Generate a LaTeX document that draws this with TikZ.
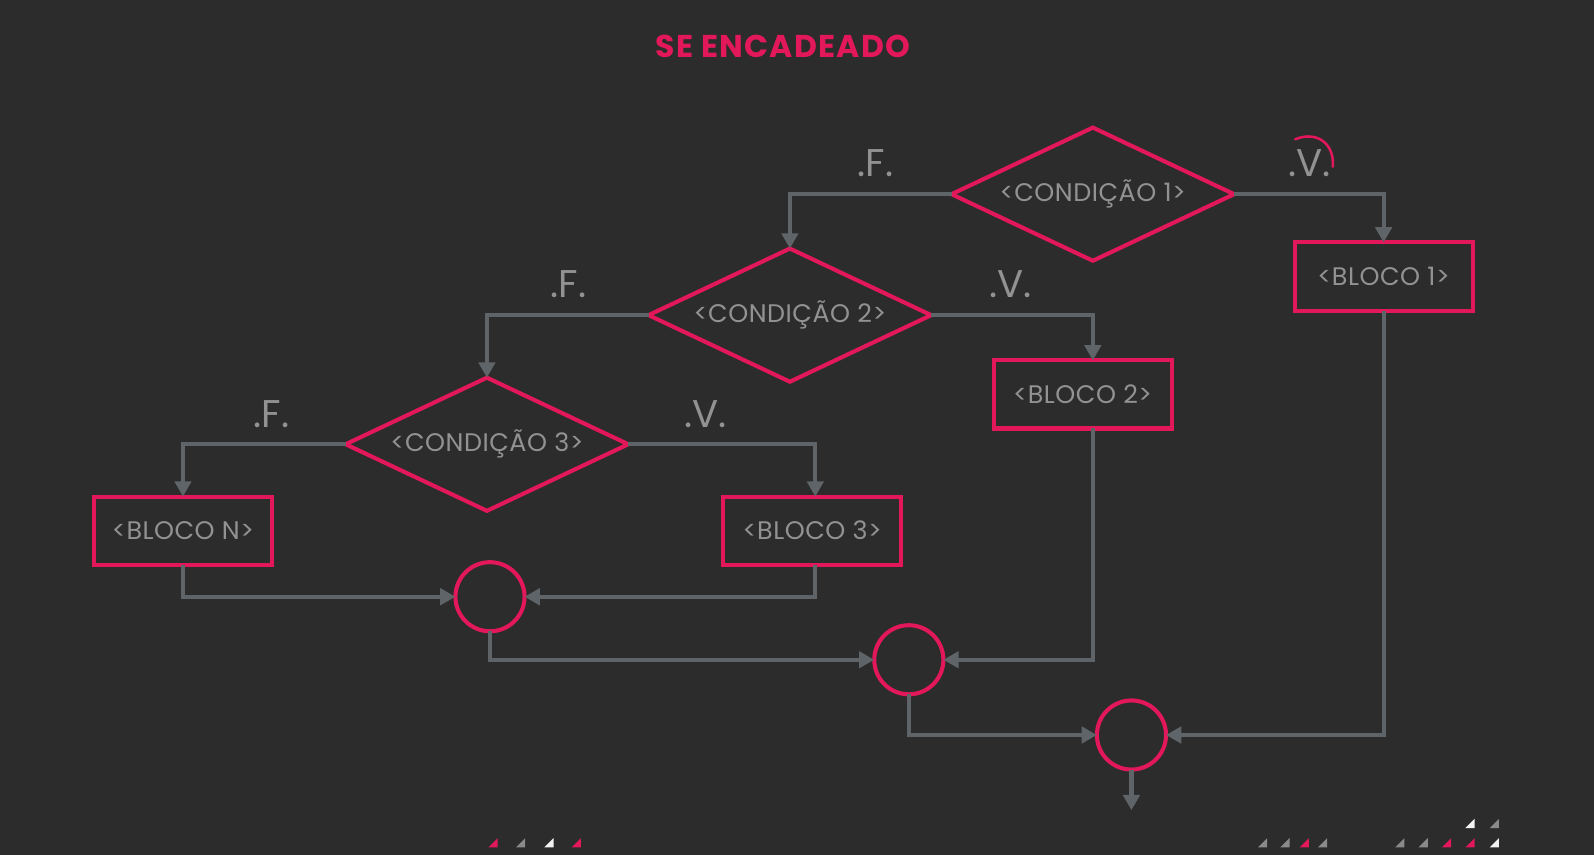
\documentclass[tikz,border=0pt]{standalone}
\usepackage{fontspec}
\setmainfont{Poppins}
\usetikzlibrary{arrows.meta,shapes.geometric}
\definecolor{bg}{HTML}{2C2C2C}
\definecolor{pinkc}{HTML}{E2185B}
\definecolor{linec}{HTML}{5E6467}
\definecolor{txtc}{HTML}{929292}
\definecolor{grayc}{HTML}{8A8A8A}
\definecolor{whitec}{HTML}{F2F2F2}
\begin{document}
\begin{tikzpicture}[x=1pt,y=-1pt,
  cond/.style={diamond, aspect=2.12, draw=pinkc, line width=4pt, minimum width=278pt, minimum height=131pt, inner sep=0pt, outer sep=0pt, text=txtc, font=\fontsize{25}{28}\selectfont\addfontfeatures{LetterSpace=2}},
  bloco/.style={rectangle, draw=pinkc, line width=4pt, minimum width=175pt, minimum height=67pt, inner sep=0pt, outer sep=0pt, text=txtc, font=\fontsize{25}{28}\selectfont\addfontfeatures{LetterSpace=2}},
  junc/.style={circle, draw=pinkc, line width=4pt, minimum size=68pt, inner sep=0pt, outer sep=0pt},
  conn/.style={draw=linec, line width=4pt, -{Triangle[length=15pt,width=16pt]}},
  lbl/.style={text=txtc, font=\fontsize{38}{40}\selectfont, inner sep=0pt},
  ttl/.style={text=pinkc, font=\fontsize{31}{34}\selectfont\bfseries\addfontfeatures{LetterSpace=4}, inner sep=0pt}
]
\fill[bg] (0,0) rectangle (1568,841);
\useasboundingbox (0,0) rectangle (1568,841);

\node[ttl] (title) at (770,46) {SE ENCADEADO};

\node[cond] (d1) at (1075,191) {<CONDIÇÃO 1>};
\node[cond] (d2) at (777,310) {<CONDIÇÃO 2>};
\node[cond] (d3) at (479,437) {<CONDIÇÃO 3>};

\node[bloco] (b1) at (1361,272) {<BLOCO 1>};
\node[bloco] (b2) at (1065,388) {<BLOCO 2>};
\node[bloco] (b3) at (799,522) {<BLOCO 3>};
\node[bloco] (bn) at (180,522) {<BLOCO N>};

\node[junc] (c1) at (482,587) {};
\node[junc] (c2) at (894,649) {};
\node[junc] (c3) at (1113,723) {};
\coordinate (fim) at (1113,797);

\node[lbl] (f1) at (861,160) {.F.};
\node[lbl] (v1) at (1288,160) {.V.};
\node[lbl] (f2) at (559,280) {.F.};
\node[lbl] (v2) at (994,280) {.V.};
\node[lbl] (f3) at (267,407) {.F.};
\node[lbl] (v3) at (694,407) {.V.};

\draw[conn] (d1.west) -| (d2.north);
\draw[conn] (d1.east) -| (b1.north);
\draw[conn] (d2.west) -| (d3.north);
\draw[conn] (d2.east) -| ([xshift=10pt]b2.north);
\draw[conn] (d3.west) -| (bn.north);
\draw[conn] (d3.east) -| ([xshift=3pt]b3.north);
\draw[conn] (bn.south) |- (c1.west);
\draw[conn] ([xshift=3pt]b3.south) |- (c1.east);
\draw[conn] (c1.south) |- (c2.west);
\draw[conn] ([xshift=10pt]b2.south) |- (c2.east);
\draw[conn] (c2.south) |- (c3.west);
\draw[conn] (b1.south) |- (c3.east);
\draw[conn] (c3.south) -- (fim);

% red stroke near .V.
\draw[pinkc, line width=2.5pt, line cap=round] (1274,137) .. controls (1296,128) and (1313,142) .. (1311,164);

% decorative triangles
\foreach \x/\y/\c in {485/829/pinkc, 512/829/grayc, 540/829/whitec, 567/829/pinkc,
  1242/829/grayc, 1264/829/grayc, 1283/829/pinkc, 1301/829/grayc,
  1377/829/grayc, 1400/829/grayc, 1423/829/pinkc, 1446/829/pinkc, 1470/829/whitec,
  1446/810/whitec, 1470/810/grayc}
  \fill[\c] (\x-4.5,\y+4.5) -- (\x+4.5,\y+4.5) -- (\x+4.5,\y-4.5) -- cycle;
\end{tikzpicture}
\end{document}
